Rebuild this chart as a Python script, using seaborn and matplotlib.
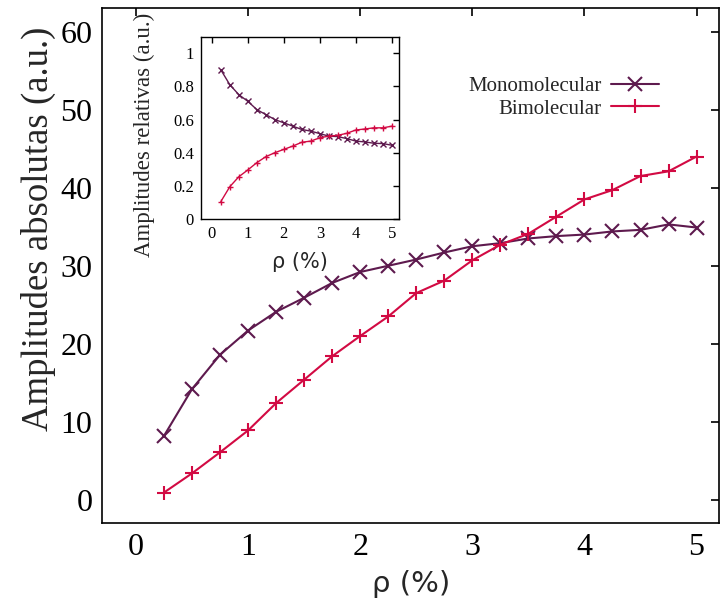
"""Amplitudes absolutas y relativas frente a rho."""

import matplotlib

matplotlib.use("Agg")
import matplotlib.pyplot as plt
import pandas as pd
import seaborn as sns

RHO = [0.25, 0.5, 0.75, 1.0, 1.25, 1.5, 1.75, 2.0, 2.25, 2.5,
       2.75, 3.0, 3.25, 3.5, 3.75, 4.0, 4.25, 4.5, 4.75, 5.0]
MONO_ABS = [8.2, 14.2, 18.6, 21.7, 24.1, 25.9, 27.8, 29.2, 30.0, 30.8,
            31.7, 32.5, 32.9, 33.5, 33.8, 34.0, 34.4, 34.6, 35.3, 34.9]
BI_ABS = [0.94, 3.4, 6.1, 8.9, 12.4, 15.4, 18.4, 21.0, 23.5, 26.5,
          28.1, 30.7, 32.7, 34.1, 36.3, 38.5, 39.7, 41.5, 42.1, 44.0]
MONO_REL = [0.90, 0.81, 0.75, 0.71, 0.66, 0.63, 0.60, 0.58, 0.56, 0.54,
            0.53, 0.515, 0.50, 0.497, 0.485, 0.47, 0.465, 0.457, 0.455, 0.445]
BI_REL = [0.105, 0.195, 0.255, 0.296, 0.34, 0.376, 0.40, 0.42, 0.44, 0.463,
          0.47, 0.49, 0.50, 0.505, 0.517, 0.537, 0.543, 0.55, 0.55, 0.56]
SERIES = ["Monomolecular", "Bimolecular"]
COLORS = {"Monomolecular": "#5e1a4e", "Bimolecular": "#d20a43"}
MARKERS = {"Monomolecular": "x", "Bimolecular": "+"}

SERIF = ["Liberation Serif", "DejaVu Serif"]
SANS = ["DejaVu Sans"]


def _long(mono, bi):
    return pd.DataFrame({
        "rho": RHO + RHO,
        "amp": mono + bi,
        "serie": [SERIES[0]] * len(RHO) + [SERIES[1]] * len(RHO),
    })


def _draw(ax, df, ms, mew, lw, legend):
    sns.lineplot(data=df, x="rho", y="amp", hue="serie", style="serie",
                 hue_order=SERIES, style_order=SERIES, palette=COLORS,
                 markers=MARKERS, dashes=False, markersize=ms,
                 markeredgewidth=mew, linewidth=lw, ax=ax, legend=legend)
    # seaborn pinta el borde de los marcadores en blanco; gnuplot no
    for line in ax.lines:
        line.set_markeredgecolor(line.get_color())


def _style_axes(ax, size, lw):
    ax.tick_params(direction="in", top=True, right=True, length=size, width=lw,
                   colors="black")
    for side in ax.spines.values():
        side.set_linewidth(lw)
        side.set_color("black")


sns.set_style("white")
plt.rcParams["font.family"] = SERIF

fig = plt.figure(figsize=(7.2, 6.01), dpi=100)
ax = fig.add_axes([0.1421, 0.1293, 0.8565, 0.857])

_draw(ax, _long(MONO_ABS, BI_ABS), 10, 1.5, 1.5, True)

ax.set_xlim(-0.3, 5.2)
ax.set_ylim(-3, 63)
ax.set_xticks([0, 1, 2, 3, 4, 5])
ax.set_yticks([0, 10, 20, 30, 40, 50, 60])
_style_axes(ax, 6, 1.2)
ax.tick_params(labelsize=23, pad=7)
ax.set_xlabel("ρ (%)", fontsize=21, family=SANS, labelpad=6)
ax.set_ylabel("Amplitudes absolutas (a.u.)", fontsize=26.5)
ax.yaxis.set_label_coords(-0.075, 0.571)

handles, labels = ax.get_legend_handles_labels()
for h in handles:
    h.set_markeredgecolor(h.get_color())
ax.legend(handles, labels, loc="upper right", bbox_to_anchor=(0.92, 0.887),
          frameon=False, markerfirst=False, fontsize=15, handlelength=2.3,
          handletextpad=0.45, borderpad=0, labelspacing=0.12)

ins = fig.add_axes([0.2792, 0.6356, 0.275, 0.3034])
_draw(ins, _long(MONO_REL, BI_REL), 5, 1.0, 1.0, False)

ins.set_xlim(-0.3, 5.2)
ins.set_ylim(0, 1.1)
ins.set_xticks([0, 1, 2, 3, 4, 5])
ins.set_yticks([0, 0.2, 0.4, 0.6, 0.8, 1])
ins.set_yticklabels(["0", "0.2", "0.4", "0.6", "0.8", "1"])
_style_axes(ins, 4, 1.0)
ins.tick_params(labelsize=12, pad=5)
ins.set_xlabel("ρ (%)", fontsize=15, family=SANS, labelpad=7)
ins.set_ylabel("Amplitudes relativas (a.u.)", fontsize=16.5)
ins.yaxis.set_label_coords(-0.232, 0.46)

fig.savefig("out.png", dpi=100)
